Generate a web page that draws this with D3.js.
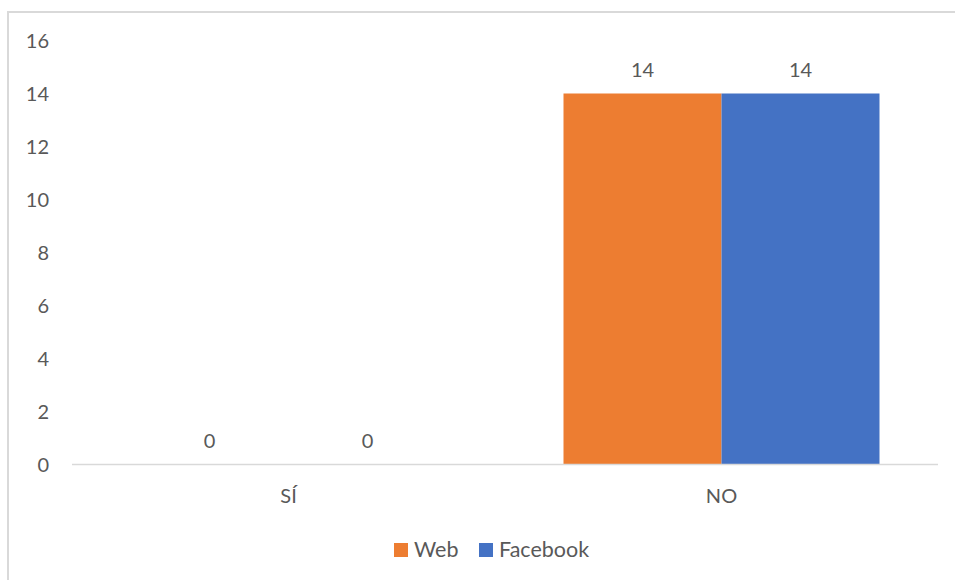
<!DOCTYPE html>
<html><head><meta charset="utf-8">
<script src="https://cdn.jsdelivr.net/npm/d3@7"></script>
<style>
body{margin:0;background:#fff;}
text{font-family:Lato,"Open Sans",sans-serif;fill:#595959;}
</style></head>
<body><svg id="c" width="955" height="580"></svg>
<script>
const categories = ["SÍ", "NO"];
const seriesNames = ["Web", "Facebook"];
const webValues = [0, 14];
const facebookValues = [0, 14];
const yTicks = [0, 2, 4, 6, 8, 10, 12, 14, 16];
const colors = ["#ED7D31", "#4472C4"];

(function () {
const FONT = "Lato,'Open Sans',sans-serif";
const FS = 20;
const svg = d3.select("#c");
svg.append("rect").attr("x", 8).attr("y", 12).attr("width", 960).attr("height", 600)
  .attr("fill", "#fff").attr("stroke", "#d9d9d9").attr("stroke-width", 2);

const pLeft = 72, pRight = 938, pTop = 40.5, pBottom = 464.5;
const x0 = d3.scaleBand().domain(categories).range([pLeft, pRight]).paddingInner(0).paddingOuter(0);
const x1 = d3.scaleBand().domain(seriesNames).range([58.5, x0.bandwidth() - 58.5]);
const y = d3.scaleLinear().domain([0, 16]).range([pBottom, pTop]);

const yAxis = d3.axisLeft(y).tickValues(yTicks).tickSize(0).tickPadding(0);
const ga = svg.append("g").attr("transform", `translate(49,0)`).call(yAxis);
ga.select(".domain").remove();
ga.selectAll("text").attr("font-size", FS).attr("font-family", FONT).attr("fill", "#595959").attr("dy", "0.36em");

const data = categories.map((c, i) => ({cat: c, vals: [webValues[i], facebookValues[i]]}));
const groups = svg.selectAll("g.cat").data(data).join("g").attr("class", "cat")
  .attr("transform", d => `translate(${x0(d.cat)},0)`);
groups.selectAll("rect").data(d => d.vals.map((v, j) => ({v, s: seriesNames[j], j})))
  .join("rect")
  .attr("x", d => x1(d.s)).attr("width", x1.bandwidth())
  .attr("y", d => y(d.v)).attr("height", d => pBottom - y(d.v))
  .attr("fill", d => colors[d.j]);
groups.selectAll("text").data(d => d.vals.map((v, j) => ({v, s: seriesNames[j]})))
  .join("text")
  .attr("x", d => x1(d.s) + x1.bandwidth() / 2).attr("y", d => y(d.v) - 17)
  .attr("text-anchor", "middle").attr("font-size", FS).text(d => d.v);

svg.append("line").attr("x1", pLeft).attr("x2", pRight).attr("y1", pBottom).attr("y2", pBottom)
  .attr("stroke", "#d9d9d9").attr("stroke-width", 1.5);

const xAxis = d3.axisBottom(x0).tickSize(0).tickPadding(0);
const gx = svg.append("g").attr("transform", `translate(0,${pBottom})`).call(xAxis);
gx.select(".domain").remove();
gx.selectAll("text").attr("font-size", FS).attr("font-family", FONT).attr("fill", "#595959")
  .attr("y", 38.5).attr("dy", 0);

const legendX = [394, 479];
const lg = svg.selectAll("g.leg").data(seriesNames).join("g").attr("class", "leg")
  .attr("transform", (d, i) => `translate(${legendX[i]},543)`);
lg.append("rect").attr("width", 14).attr("height", 14).attr("fill", (d, i) => colors[i]);
lg.append("text").attr("x", 20).attr("y", 13.5).attr("font-size", 21.5).text(d => d);
})();
</script></body></html>
